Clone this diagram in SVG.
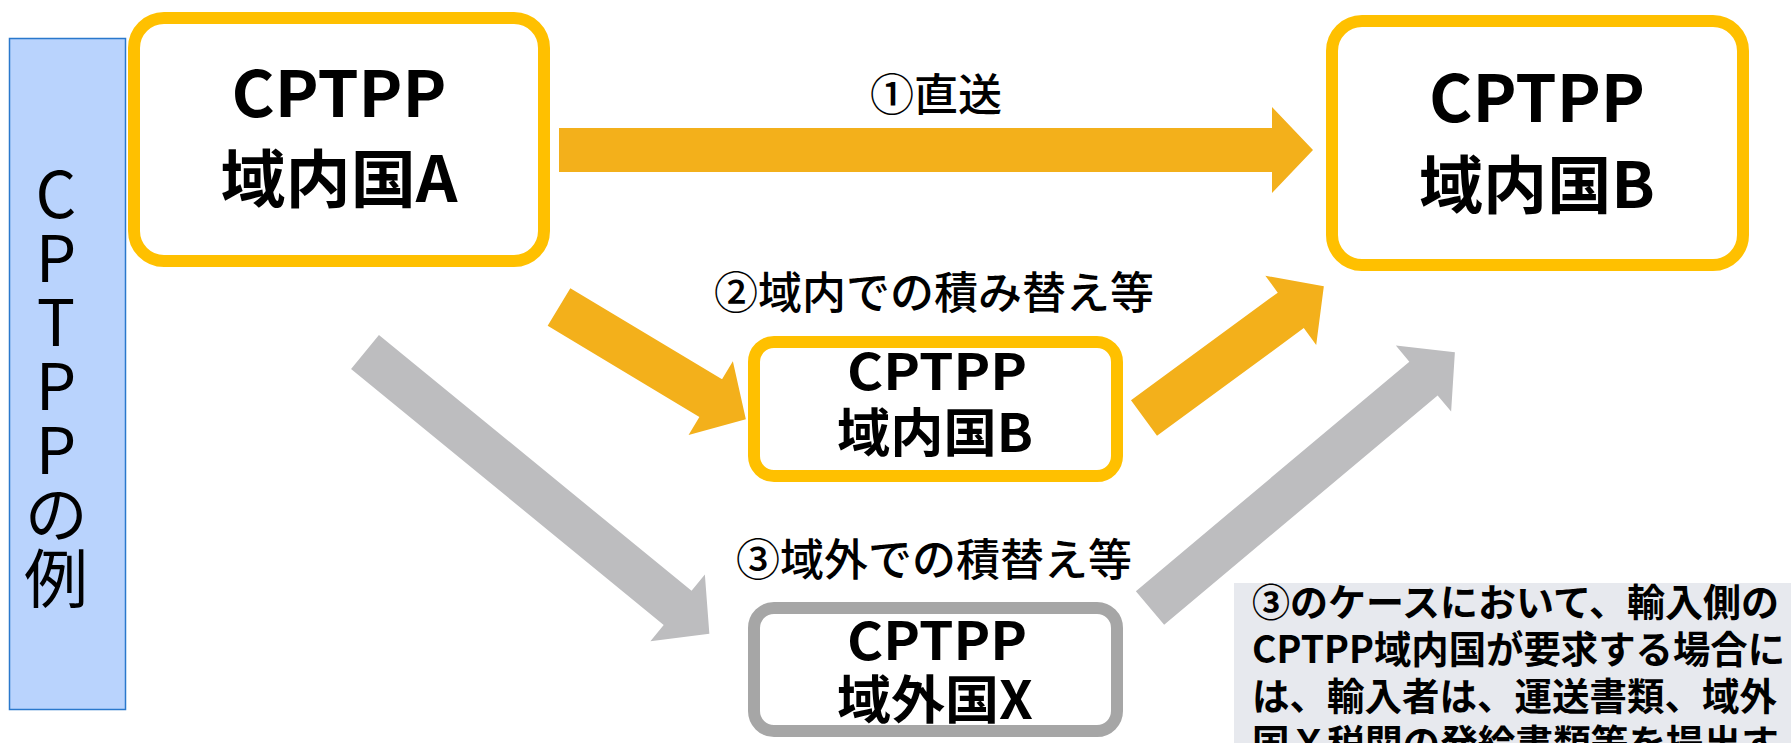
<svg xmlns="http://www.w3.org/2000/svg" width="1791" height="743" viewBox="0 0 1791 743">
<style>
  .jp { font-family: "Noto Sans CJK JP", "Noto Sans", sans-serif; fill: #000; }
  .bold { font-weight: 700; }
  .lbl { font-size: 44px; font-weight: 500; text-anchor: middle; }
  .node-o { fill: #fff; stroke: #FFC000; stroke-width: 12; }
  .node-g { fill: #fff; stroke: #A6A6A6; stroke-width: 12; }
  .arr-o { fill: #F3B01B; }
  .arr-g { fill: #BDBDBF; }
  .mid { text-anchor: middle; }
  .vert { writing-mode: vertical-rl; text-orientation: upright; }
</style>
<rect width="1791" height="743" fill="#fff"/>

<g id="side-label">
  <rect x="9.5" y="38.5" width="116" height="671" fill="#B9D3FD" stroke="#2A78CC" stroke-width="1.5"/>
  <text class="jp vert" font-size="64" x="56" y="162">CPTPPの例</text>
</g>

<g id="connectors">
  <polygon class="arr-o" points="559,128 1272,128 1272,107 1313,150 1272,193 1272,172 559,172"/>
  <g transform="translate(559,307) rotate(31)">
    <polygon class="arr-o" points="0,-22 177,-22 177,-43 218,0 177,43 177,22 0,22"/>
  </g>
  <g transform="translate(1144,418) rotate(-36.25)">
    <polygon class="arr-o" points="0,-22 182,-22 182,-43 223,0 182,43 182,22 0,22"/>
  </g>
  <g transform="translate(365,352) rotate(39.3)">
    <polygon class="arr-g" points="0,-22 404,-22 404,-43 445,0 404,43 404,22 0,22"/>
  </g>
  <g transform="translate(1150,608) rotate(-40)">
    <polygon class="arr-g" points="0,-22 357,-22 357,-43 398,0 357,43 357,22 0,22"/>
  </g>
  <text class="jp lbl" x="936" y="111">①直送</text>
  <text class="jp lbl" x="934" y="309">②域内での積み替え等</text>
  <text class="jp lbl" x="934" y="576">③域外での積替え等</text>
</g>

<g id="node-a">
  <rect class="node-o" x="134" y="18" width="410" height="243" rx="30"/>
  <text class="jp bold mid" font-size="64" x="339" y="117" textLength="215" lengthAdjust="spacingAndGlyphs">CPTPP</text>
  <text class="jp bold mid" font-size="63" x="339" y="202" textLength="237" lengthAdjust="spacingAndGlyphs">域内国A</text>
</g>

<g id="node-b">
  <rect class="node-o" x="1332" y="21" width="411" height="244" rx="30"/>
  <text class="jp bold mid" font-size="65" x="1537" y="122" textLength="216" lengthAdjust="spacingAndGlyphs">CPTPP</text>
  <text class="jp bold mid" font-size="63" x="1537" y="208" textLength="236" lengthAdjust="spacingAndGlyphs">域内国B</text>
</g>

<g id="node-b-mid">
  <rect class="node-o" x="754" y="342" width="363" height="134" rx="20"/>
  <text class="jp bold mid" font-size="50" x="937" y="390" textLength="180" lengthAdjust="spacingAndGlyphs">CPTPP</text>
  <text class="jp bold mid" font-size="52" x="935" y="452" textLength="196" lengthAdjust="spacingAndGlyphs">域内国B</text>
</g>

<g id="node-x">
  <rect class="node-g" x="754" y="608" width="363" height="123" rx="20"/>
  <text class="jp bold mid" font-size="52" x="937" y="660" textLength="180" lengthAdjust="spacingAndGlyphs">CPTPP</text>
  <text class="jp bold mid" font-size="52" x="935" y="719" textLength="196" lengthAdjust="spacingAndGlyphs">域外国X</text>
</g>

<g id="note">
  <rect x="1234" y="583" width="557" height="160" fill="#E7E9EE"/>
  <text class="jp bold" font-size="38">
    <tspan x="1252" y="616" textLength="527" lengthAdjust="spacingAndGlyphs">③のケースにおいて、輸入側の</tspan>
    <tspan x="1252" y="663" textLength="533" lengthAdjust="spacingAndGlyphs">CPTPP域内国が要求する場合に</tspan>
    <tspan x="1252" y="710" textLength="525" lengthAdjust="spacingAndGlyphs">は、輸入者は、運送書類、域外</tspan>
    <tspan x="1252" y="757" textLength="527" lengthAdjust="spacingAndGlyphs">国Ｘ税関の発給書類等を提出す</tspan>
  </text>
</g>
</svg>
